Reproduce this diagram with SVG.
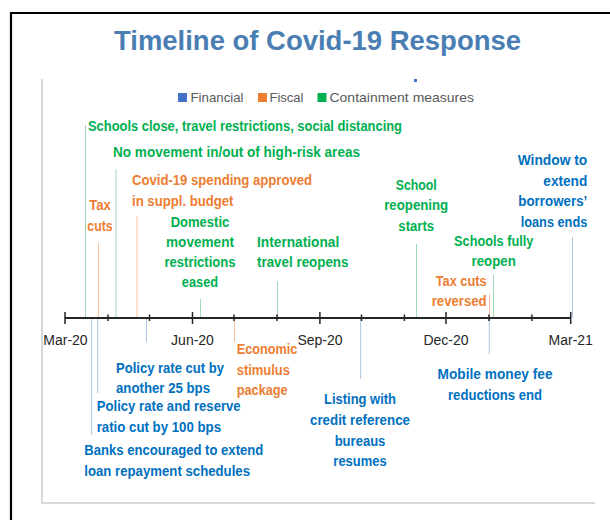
<svg xmlns="http://www.w3.org/2000/svg" width="610" height="520" viewBox="0 0 610 520">
<style>
.lbl{font-family:"Liberation Sans",Arial,sans-serif;font-weight:bold;font-size:14px}
.g{fill:#00B050}.o{fill:#ED7D31}.b{fill:#0070C0}
.leg{font-family:"Liberation Sans",Arial,sans-serif;font-size:13.5px;fill:#595959}
.ax{font-family:"Liberation Sans",Arial,sans-serif;font-size:14px;fill:#262626;text-anchor:middle}
.lg{stroke:#A3D6B4;stroke-width:1}.lo{stroke:#F6C09C;stroke-width:1}.lb{stroke:#AFC3E6;stroke-width:1}
.tk{stroke:#262626;stroke-width:1.5}
</style>
<rect width="610" height="520" fill="#fff"/>
<path d="M11,520 V13 H610" fill="none" stroke="#000" stroke-width="2.2"/>
<path d="M42,79 V503 H595" fill="none" stroke="#D9D9D9" stroke-width="2"/>
<text x="317.5" y="49.5" text-anchor="middle" font-family="Liberation Sans,Arial,sans-serif" font-weight="bold" font-size="28" fill="#4A7EB3" textLength="407" lengthAdjust="spacingAndGlyphs">Timeline of Covid-19 Response</text>
<g id="legend">
<rect x="414" y="79" width="3" height="3" fill="#4472C4"/>
<rect x="178" y="93" width="9" height="9" fill="#4472C4"/>
<text class="leg" x="190.5" y="101.5" textLength="53" lengthAdjust="spacingAndGlyphs">Financial</text>
<rect x="258" y="93" width="9" height="9" fill="#ED7D31"/>
<text class="leg" x="269.5" y="101.5" textLength="34" lengthAdjust="spacingAndGlyphs">Fiscal</text>
<rect x="317.5" y="93" width="9" height="9" fill="#00B050"/>
<text class="leg" x="329.5" y="101.5" textLength="144.5" lengthAdjust="spacingAndGlyphs">Containment measures</text>
</g>
<g id="connectors">
<line class="lg" x1="85.5" y1="125" x2="85.5" y2="318"/>
<line class="lg" x1="116" y1="169" x2="116" y2="318"/>
<line class="lo" x1="137" y1="216" x2="137" y2="318"/>
<line class="lo" x1="98.5" y1="243" x2="98.5" y2="318"/>
<line class="lg" x1="200.5" y1="299" x2="200.5" y2="318"/>
<line class="lg" x1="277.5" y1="281" x2="277.5" y2="318"/>
<line class="lg" x1="416.5" y1="244" x2="416.5" y2="318"/>
<line class="lg" x1="493.5" y1="275" x2="493.5" y2="318"/>
<line class="lo" x1="489.5" y1="294" x2="489.5" y2="318"/>
<line class="lb" x1="572.5" y1="237" x2="572.5" y2="318"/>
<line class="lo" x1="234.5" y1="318" x2="234.5" y2="342"/>
<line class="lb" x1="146.5" y1="318" x2="146.5" y2="342"/>
<line class="lb" x1="97.7" y1="318" x2="97.7" y2="393"/>
<line class="lb" x1="91.7" y1="318" x2="91.7" y2="435"/>
<line class="lb" x1="360.7" y1="318" x2="360.7" y2="379"/>
<line class="lb" x1="489.3" y1="318" x2="489.3" y2="354"/>
</g>
<g id="axis">
<line x1="65" y1="318" x2="570.7" y2="318" stroke="#262626" stroke-width="1.8"/>
<path class="tk" d="M65,312V324 M192.5,312V324 M319.9,312V324 M446,312V324 M570.7,312V324"/>
<path class="tk" d="M108,314.5V321 M149.5,314.5V321 M234,314.5V321 M277,314.5V321 M361.5,314.5V321 M404.4,314.5V321 M489,314.5V321 M531.9,314.5V321"/>
<text class="ax" x="65.5" y="345">Mar-20</text>
<text class="ax" x="192.5" y="345">Jun-20</text>
<text class="ax" x="320" y="345">Sep-20</text>
<text class="ax" x="446" y="345">Dec-20</text>
<text class="ax" x="570.7" y="345">Mar-21</text>
</g>
<g id="n-schools-close"><text class="lbl g" x="88" y="131" textLength="314" lengthAdjust="spacingAndGlyphs">Schools close, travel restrictions, social distancing</text></g>
<g id="n-no-movement"><text class="lbl g" x="113" y="157" textLength="247" lengthAdjust="spacingAndGlyphs">No movement in/out of high-risk areas</text></g>
<g id="n-covid-spending">
<text class="lbl o" x="132" y="185" textLength="180" lengthAdjust="spacingAndGlyphs">Covid-19 spending approved</text>
<text class="lbl o" x="132" y="205.5" textLength="101.5" lengthAdjust="spacingAndGlyphs">in suppl. budget</text>
</g>
<g id="n-tax-cuts" text-anchor="middle">
<text class="lbl o" x="100" y="210" textLength="21.7" lengthAdjust="spacingAndGlyphs">Tax</text>
<text class="lbl o" x="100" y="230.5" textLength="25.3" lengthAdjust="spacingAndGlyphs">cuts</text>
</g>
<g id="n-domestic" text-anchor="middle">
<text class="lbl g" x="200" y="226.5" textLength="58.6" lengthAdjust="spacingAndGlyphs">Domestic</text>
<text class="lbl g" x="200" y="246.5" textLength="68" lengthAdjust="spacingAndGlyphs">movement</text>
<text class="lbl g" x="200" y="266.5" textLength="71" lengthAdjust="spacingAndGlyphs">restrictions</text>
<text class="lbl g" x="200" y="286.5" textLength="36.3" lengthAdjust="spacingAndGlyphs">eased</text>
</g>
<g id="n-international">
<text class="lbl g" x="257" y="246.5" textLength="82.3" lengthAdjust="spacingAndGlyphs">International</text>
<text class="lbl g" x="257" y="266.5" textLength="91.5" lengthAdjust="spacingAndGlyphs">travel reopens</text>
</g>
<g id="n-school-reopening" text-anchor="middle">
<text class="lbl g" x="416.2" y="190" textLength="41" lengthAdjust="spacingAndGlyphs">School</text>
<text class="lbl g" x="416.2" y="210" textLength="64" lengthAdjust="spacingAndGlyphs">reopening</text>
<text class="lbl g" x="416.2" y="230.5" textLength="35.7" lengthAdjust="spacingAndGlyphs">starts</text>
</g>
<g id="n-schools-fully" text-anchor="middle">
<text class="lbl g" x="493.7" y="245.5" textLength="79.3" lengthAdjust="spacingAndGlyphs">Schools fully</text>
<text class="lbl g" x="493.7" y="265.5" textLength="44.3" lengthAdjust="spacingAndGlyphs">reopen</text>
</g>
<g id="n-tax-reversed" text-anchor="end">
<text class="lbl o" x="486.7" y="285.5" textLength="51" lengthAdjust="spacingAndGlyphs">Tax cuts</text>
<text class="lbl o" x="486.7" y="305.5" textLength="55" lengthAdjust="spacingAndGlyphs">reversed</text>
</g>
<g id="n-window" text-anchor="end">
<text class="lbl b" x="587.3" y="165" textLength="69.6" lengthAdjust="spacingAndGlyphs">Window to</text>
<text class="lbl b" x="587.3" y="185.5" textLength="44" lengthAdjust="spacingAndGlyphs">extend</text>
<text class="lbl b" x="587.3" y="206" textLength="69" lengthAdjust="spacingAndGlyphs">borrowers’</text>
<text class="lbl b" x="587.3" y="226.5" textLength="66.6" lengthAdjust="spacingAndGlyphs">loans ends</text>
</g>
<g id="n-stimulus">
<text class="lbl o" x="236.7" y="354" textLength="60.6" lengthAdjust="spacingAndGlyphs">Economic</text>
<text class="lbl o" x="236.7" y="374.5" textLength="53.3" lengthAdjust="spacingAndGlyphs">stimulus</text>
<text class="lbl o" x="236.7" y="394.5" textLength="51" lengthAdjust="spacingAndGlyphs">package</text>
</g>
<g id="n-policy-25">
<text class="lbl b" x="116" y="372.5" textLength="108" lengthAdjust="spacingAndGlyphs">Policy rate cut by</text>
<text class="lbl b" x="116" y="393" textLength="94" lengthAdjust="spacingAndGlyphs">another 25 bps</text>
</g>
<g id="n-policy-100">
<text class="lbl b" x="96.7" y="410.5" textLength="144" lengthAdjust="spacingAndGlyphs">Policy rate and reserve</text>
<text class="lbl b" x="96.7" y="431.5" textLength="124.3" lengthAdjust="spacingAndGlyphs">ratio cut by 100 bps</text>
</g>
<g id="n-banks">
<text class="lbl b" x="84.3" y="455" textLength="179" lengthAdjust="spacingAndGlyphs">Banks encouraged to extend</text>
<text class="lbl b" x="84.3" y="475.5" textLength="165.7" lengthAdjust="spacingAndGlyphs">loan repayment schedules</text>
</g>
<g id="n-listing" text-anchor="middle">
<text class="lbl b" x="360" y="404" textLength="72" lengthAdjust="spacingAndGlyphs">Listing with</text>
<text class="lbl b" x="360" y="425" textLength="100" lengthAdjust="spacingAndGlyphs">credit reference</text>
<text class="lbl b" x="360" y="445.5" textLength="50.7" lengthAdjust="spacingAndGlyphs">bureaus</text>
<text class="lbl b" x="360" y="466" textLength="53.3" lengthAdjust="spacingAndGlyphs">resumes</text>
</g>
<g id="n-mobile-money" text-anchor="middle">
<text class="lbl b" x="495" y="379" textLength="115" lengthAdjust="spacingAndGlyphs">Mobile money fee</text>
<text class="lbl b" x="495" y="400" textLength="94" lengthAdjust="spacingAndGlyphs">reductions end</text>
</g>
</svg>
